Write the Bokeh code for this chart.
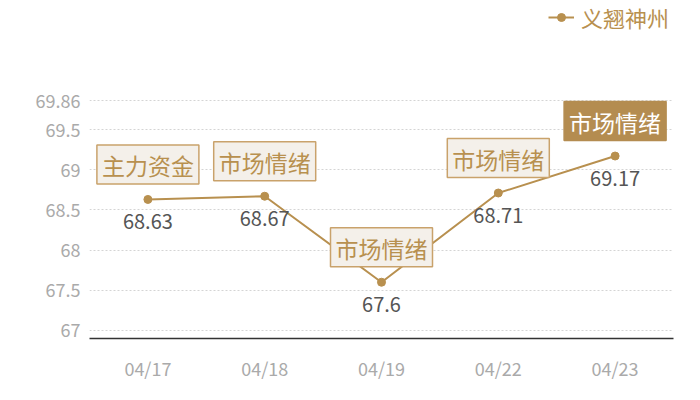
from bokeh.plotting import figure
from bokeh.models import ColumnDataSource, FactorRange, Range1d, FixedTicker, CustomJSTickFormatter, Legend, LegendItem
from bokeh.core.properties import value
from bokeh.embed import file_html
from bokeh.resources import INLINE

dates = ["04/17", "04/18", "04/19", "04/22", "04/23"]
values = [68.63, 68.67, 67.6, 68.71, 69.17]
tags = ["主力资金", "市场情绪", "市场情绪", "市场情绪", "市场情绪"]
y_ticks = [67, 67.5, 68, 68.5, 69, 69.5, 69.86]
series_name = "义翘神州"

GOLD = "#b8904f"
FONT = "Noto Sans CJK SC"

src = ColumnDataSource(dict(x=dates, y=values, lab=[str(v) for v in values], tag=tags))
src_tag = ColumnDataSource(dict(x=dates[:-1], y=values[:-1], tag=tags[:-1]))
src_last = ColumnDataSource(dict(x=dates[-1:], y=values[-1:], tag=tags[-1:]))

# frame extends to the top of the page so the legend sits inside it; ticks stop at 69.86
p = figure(width=684, height=384, x_range=FactorRange(*dates), y_range=Range1d(66.9, 71.08),
           output_backend="svg", toolbar_location=None,
           min_border_left=89, min_border_right=11, min_border_top=2, min_border_bottom=46)
p.outline_line_color = None
p.background_fill_color = "white"

line = p.line("x", "y", source=src, line_color=GOLD, line_width=2)
dots = p.scatter("x", "y", source=src, size=8, fill_color=GOLD, line_color=GOLD)

p.text("x", "y", text="lab", source=src, text_font=value(FONT), text_font_size="20px",
       text_color="#555555", text_align="center", text_baseline="middle", y_offset=22)

pad = dict(left=5, right=5, top=3, bottom=2)
p.text("x", "y", text="tag", source=src_tag, text_font=value(FONT), text_font_size="23px",
       text_color=GOLD, text_align="center", text_baseline="middle", y_offset=-35,
       background_fill_color="#f4f0ea", border_line_color="#c9a26b", border_line_width=1.5,
       padding=pad)
p.text("x", "y", text="tag", source=src_last, text_font=value(FONT), text_font_size="23px",
       text_color="white", text_align="center", text_baseline="middle", y_offset=-35,
       background_fill_color="#b48c50", border_line_color="#b48c50", border_line_width=1.5,
       padding=pad)

p.xgrid.grid_line_color = None
p.ygrid.grid_line_color = "#d4d4d4"
p.ygrid.grid_line_dash = "2 2"
p.ygrid.ticker = FixedTicker(ticks=y_ticks)

p.yaxis.ticker = FixedTicker(ticks=y_ticks)
p.yaxis.formatter = CustomJSTickFormatter(code="return String(tick);")
p.yaxis.axis_line_color = None
p.yaxis.major_tick_line_color = None
p.yaxis.minor_tick_line_color = None
p.yaxis.major_tick_out = 0
p.yaxis.major_label_text_color = "#aaaaaa"
p.yaxis.major_label_text_font = FONT
p.yaxis.major_label_text_font_size = "18px"
p.yaxis.major_label_standoff = 9

p.xaxis.axis_line_color = "#333333"
p.xaxis.axis_line_width = 1.5
p.xaxis.major_tick_line_color = None
p.xaxis.minor_tick_line_color = None
p.xaxis.major_tick_out = 0
p.xaxis.major_label_text_color = "#aaaaaa"
p.xaxis.major_label_text_font = FONT
p.xaxis.major_label_text_font_size = "18px"
p.xaxis.major_label_standoff = 16

legend = Legend(items=[LegendItem(label=series_name, renderers=[line, dots])],
                location=(459, 305), orientation="horizontal",
                label_text_font=FONT, label_text_font_size="22px", label_text_color=GOLD,
                glyph_width=26, glyph_height=20, background_fill_alpha=0, border_line_color=None,
                padding=0, margin=0, spacing=0, label_standoff=7)
p.add_layout(legend, "center")

open("out.html", "w").write(file_html(p, INLINE))
